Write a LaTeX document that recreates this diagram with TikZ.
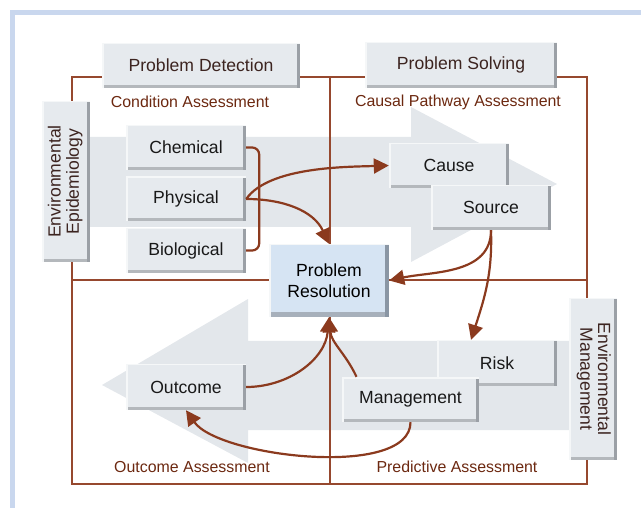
\documentclass[tikz,border=0pt]{standalone}
\usepackage{fontspec}
\setmainfont{Liberation Sans}
\usetikzlibrary{arrows.meta}

\definecolor{frameblue}{RGB}{201,215,238}
\definecolor{flowgray}{RGB}{227,231,235}
\definecolor{boxfill}{RGB}{230,234,238}
\definecolor{edgegray}{RGB}{155,160,166}
\definecolor{resfill}{RGB}{214,228,243}
\definecolor{resedge}{RGB}{138,150,164}
\definecolor{linkbrown}{RGB}{139,58,30}
\definecolor{gridbrown}{RGB}{150,72,46}
\definecolor{lblbrown}{RGB}{108,40,16}
\definecolor{darktext}{RGB}{60,36,32}

\newcommand{\bxfont}{\fontsize{17.6}{17.6}\selectfont}
\newcommand{\lblfont}{\fontsize{15.9}{18}\selectfont}
% bevel: dark strip right and bottom, light strip top and left
\newcommand{\bevelbox}[2]{%
  \fill[#2!75!white] (path picture bounding box.south west) rectangle ([yshift=#1]path picture bounding box.south east);
  \fill[#2] ([xshift=-#1]path picture bounding box.north east) rectangle (path picture bounding box.south east);
  \fill[white!60!boxfill] (path picture bounding box.north west) rectangle ([yshift=-1.5pt]path picture bounding box.north east);
  \fill[white!60!boxfill] (path picture bounding box.north west) rectangle ([xshift=1.5pt]path picture bounding box.south west);}

\tikzstyle{box} = [rectangle, minimum width=120pt, minimum height=45pt, inner sep=0pt, text centered, fill=boxfill, font=\bxfont, text=black!90, path picture={\bevelbox{3pt}{edgegray}}]
\tikzstyle{headbox} = [box, text=darktext]
\tikzstyle{resbox} = [rectangle, minimum width=120pt, minimum height=73pt, inner sep=0pt, align=center, fill=resfill, text=black, font=\fontsize{17.6}{21}\selectfont, path picture={\bevelbox{4.5pt}{resedge}}]
\tikzstyle{lbl} = [font=\lblfont, text=lblbrown]
\tikzstyle{flow} = [fill=flowgray]
\tikzstyle{grid} = [draw=gridbrown, line width=1.5pt]
\tikzstyle{link} = [draw=linkbrown, line width=2.2pt]
\tikzstyle{arrow} = [link, -{Triangle[length=15pt,width=15pt]}]

\begin{document}
\begin{tikzpicture}[x=1pt, y=1pt, node distance=51.5pt]
    \useasboundingbox (0,0) rectangle (641,-508);

    % corner of the page frame
    \fill[frameblue] (10,-10) rectangle (641,-15);
    \fill[frameblue] (10,-10) rectangle (15,-508);

    % the two big flow arrows
    \fill[flow] (90,-137) -- (411,-137) -- (411,-107) -- (557,-184) -- (411,-262) -- (411,-227) -- (90,-227) -- cycle;
    \fill[flow] (570,-341) -- (248,-341) -- (248,-299) -- (102,-385) -- (248,-463) -- (248,-430) -- (570,-430) -- cycle;

    % quadrants
    \draw[grid] (72,-77) rectangle (587,-484);
    \draw[grid] (330,-77) -- (330,-484);
    \draw[grid] (72,-280) -- (587,-280);

    \node (detect) [headbox, minimum width=198pt] at (201,-65.5) {Problem Detection};
    \node (solve) [headbox, minimum width=192pt, minimum height=46pt] at (461,-65) {Problem Solving};
    \node (epi) [headbox, minimum width=48pt, minimum height=161pt] at (66,-181.5)
        {\rotatebox{90}{\begin{tabular}{@{}c@{}}Environmental\\Epidemiology\end{tabular}}};
    \node (envman) [headbox, minimum width=48pt, minimum height=162pt] at (593,-379)
        {\rotatebox{-90}{\begin{tabular}{@{}c@{}}Environmental\\Management\end{tabular}}};

    \node (condlbl) [lbl] at (190,-102) {Condition Assessment};
    \node (causlbl) [lbl] at (458,-102) {Causal Pathway Assessment};
    \node (outlbl) [lbl] at (192,-467) {Outcome Assessment};
    \node (predlbl) [lbl] at (457,-467) {Predictive Assessment};

    \node (chem) [box] at (186,-147.5) {Chemical};
    \node (phys) [box, below of=chem] {Physical};
    \node (bio) [box, below of=phys] {Biological};

    \node (cause) [box] at (449,-165.5) {Cause};
    \node (source) [box] at (491,-207.5) {Source};

    \node (res) [resbox] at (329,-280.5) {Problem\\Resolution};

    \node (risk) [box, minimum height=46pt] at (497,-363) {Risk};
    \node (manage) [box, minimum width=137pt] at (410.5,-399.5) {Management};
    \node (outcome) [box, minimum height=46pt] at (186,-387) {Outcome};

    \draw [link, rounded corners=7pt] (chem.east) -- ++(13,0) |- (bio.east);
    \draw [arrow] (phys.east) to[out=55, in=182, looseness=0.7] (cause.west);
    \draw [arrow] (phys.east) to[out=0, in=115] (res.north);
    \draw [arrow] (source.south) to[out=-90, in=12] (res.east);
    \draw [arrow] (source.south) to[out=-88, in=72] ([xshift=-26pt]risk.north);
    \draw [arrow] ([xshift=-54pt]manage.north) to[out=115, in=-85] (res.south);
    \draw [arrow] (outcome.east) to[out=0, in=-95] (res.south);
    \draw [arrow] (manage.south) to[out=-90, in=-55, looseness=0.65] (outcome.south);

\end{tikzpicture}
\end{document}
